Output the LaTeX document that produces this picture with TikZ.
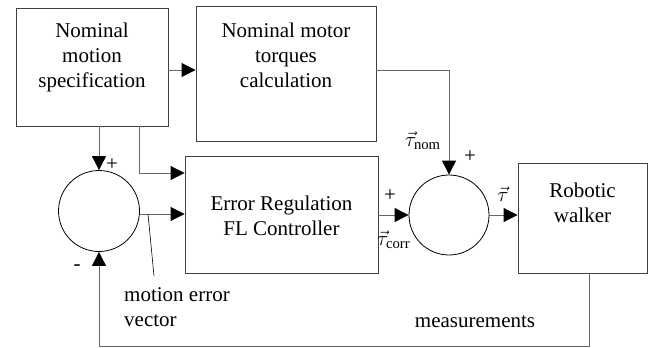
\documentclass[tikz,border=0pt]{standalone}
\usepackage{amsmath}
\usepackage{fontspec}
\setmainfont{LiberationSerif}[Extension=.ttf,UprightFont=*-Regular,BoldFont=*-Bold,ItalicFont=*-Italic]
\usetikzlibrary{arrows.meta}
\begin{document}
\begin{tikzpicture}[x=1pt,y=-1pt,
  font=\rmfamily\fontsize{21}{25}\selectfont,
  box/.style={draw=black!75,line width=0.9pt,rectangle,inner sep=0pt},
  sumnode/.style={draw=black,line width=0.8pt,circle,inner sep=0pt,minimum size=81pt},
  lbl/.style={align=center,inner sep=0pt},
  sign/.style={inner sep=0pt},
  conn/.style={draw=black!60,line width=0.9pt},
  arr/.style={conn,-{Triangle[length=14pt,width=14pt,fill=black,color=black]}},
]
\useasboundingbox (0,0) rectangle (662,348);

% blocks
\node[box,minimum width=152pt,minimum height=118pt] (spec) at (92,67) {};
\node[box,minimum width=180pt,minimum height=135pt] (torq) at (286,73.5) {};
\node[box,minimum width=193pt,minimum height=117pt] (ctrl) at (281.5,214.5) {};
\node[box,minimum width=129pt,minimum height=110pt] (robot) at (582.5,218) {};

% summing junctions
\node[sumnode] (sumA) at (99,211) {};
\node[sumnode,minimum size=80pt] (sumB) at (449,215) {};

% block texts
\node[lbl] (specT) at (92,57) {Nominal\\motion\\specification};
\node[lbl] (torqT) at (286,55.5) {Nominal motor\\torques\\calculation};
\node[lbl] (ctrlT) at (281.5,215.5) {Error Regulation\\FL Controller};
\node[lbl] (robotT) at (582.5,203) {Robotic\\walker};

% signal labels
\node[lbl,anchor=west,align=left] (errT) at (124,307.5) {motion error\\vector};
\node[lbl,anchor=base] (measT) at (475,327) {measurements};
\node[sign,anchor=base west] (tnom) at (405,146) {$\vec{\tau}_{\text{nom}}$};
\node[sign,anchor=base west] (tcorr) at (377,245) {$\vec{\tau}_{\text{corr}}$};
\node[sign,anchor=base] (tout) at (503,201) {$\vec{\tau}$};
\node[sign] (pA) at (112,165) {+};
\node[sign] (pB) at (470,157) {+};
\node[sign] (pC) at (390,196) {+};
\node[sign] (mA) at (77,268) {-};

% connectors
\coordinate (specR) at (spec.east |- 0,70);
\coordinate (torqR) at (torq.east |- 0,70);
\coordinate (specB) at (139,126);
\coordinate (ctrlIn) at (ctrl.west |- 0,173);
\coordinate (errTap) at (148,214);
\coordinate (errEnd) at (154,276);
\coordinate (robB) at (589,273);

\draw[arr] (specR) -- (torq.west |- specR);
\draw[arr] (torqR) -| (sumB.north);
\draw[arr] (sumA.north |- spec.south) -- (sumA.north);
\draw[arr] (specB) |- (ctrlIn);
\draw[arr] (sumA.east |- 0,214) -- (ctrl.west |- 0,214);
\draw[arr] (ctrl.east |- 0,215) -- (sumB.west);
\draw[arr] (sumB.east) -- (robot.west |- sumB.east);
\draw[arr] (robB) -- (589,346) -| (sumA.south);
\draw[draw=black,line width=0.6pt] (errTap) -- (errEnd);
\end{tikzpicture}
\end{document}
